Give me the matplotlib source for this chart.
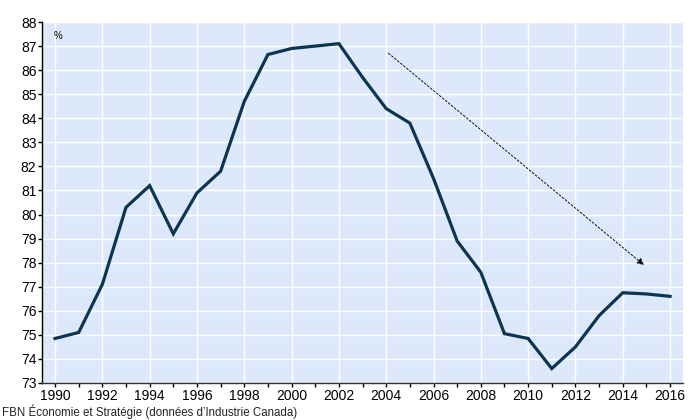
import matplotlib
matplotlib.use('Agg')
import matplotlib.pyplot as plt
from matplotlib.ticker import MultipleLocator

plt.rcParams['font.family'] = ['Liberation Sans', 'DejaVu Sans']

# Données
years = list(range(1990, 2017))
values = [74.85, 75.1, 77.1, 80.3, 81.2, 79.2, 80.9, 81.8, 84.7, 86.65,
          86.9, 87.0, 87.1, 85.7, 84.4, 83.8, 81.5, 78.9, 77.6, 75.05,
          74.85, 73.6, 74.5, 75.8, 76.75, 76.7, 76.6]
arrow_start = (2004.1, 86.7)
arrow_end = (2014.9, 77.9)
xticks = list(range(1990, 2017, 2))
yticks = list(range(73, 89))
source = "FBN Économie et Stratégie (données d’Industrie Canada)"

fig = plt.figure(figsize=(6.97, 4.20), dpi=100)
ax = fig.add_axes([0.0603, 0.0881, 0.9197, 0.8595])
ax.set_facecolor('#dde9fb')

ax.plot(years, values, color='#0b3550', linewidth=2.3, solid_joinstyle='miter', zorder=3)
ax.annotate('', xy=arrow_end, xytext=arrow_start,
            arrowprops=dict(arrowstyle='-|>', linestyle=(0, (2, 2)), color='#111111',
                            lw=0.7, mutation_scale=10, shrinkA=0, shrinkB=0))

ax.set_xlim(1989.45, 2016.55)
ax.set_ylim(73, 88)
ax.set_xticks(xticks)
ax.xaxis.set_minor_locator(MultipleLocator(1))
ax.set_yticks(yticks)
ax.grid(True, which='major', color='white', linewidth=1.0)
ax.set_axisbelow(True)
for s in ['top', 'right']:
    ax.spines[s].set_visible(False)
ax.spines['left'].set_linewidth(1.0)
ax.spines['bottom'].set_linewidth(1.0)
ax.spines['bottom'].set_color('#333333')
ax.tick_params(axis='both', which='major', labelsize=10, length=3, width=1, pad=1)
ax.tick_params(axis='x', which='minor', length=3, width=1)

ax.text(0.018, 0.975, '%', transform=ax.transAxes, fontsize=7, va='top', ha='left')
fig.text(0.003, 0.003, source, fontsize=8.3, color='#222222', ha='left', va='bottom')

fig.savefig('out.png', dpi=100)
